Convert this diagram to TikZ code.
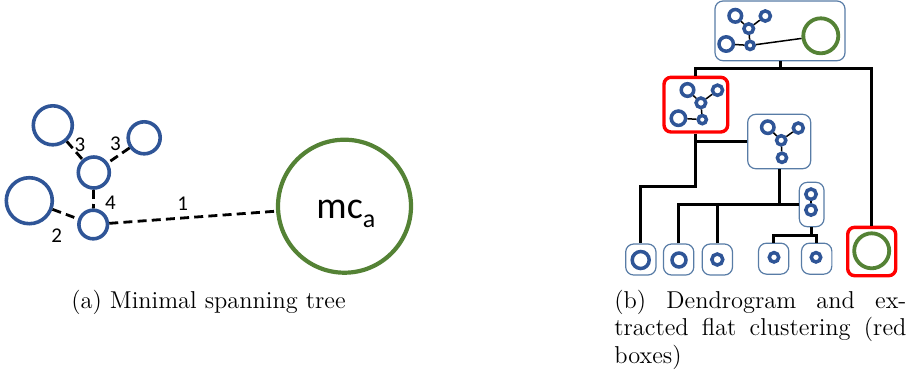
\documentclass[tikz,border=0pt]{standalone}
\usepackage{fontspec}
\newfontfamily\calibri{Carlito}
\definecolor{nodeblue}{RGB}{47,85,151}
\definecolor{clustgreen}{RGB}{84,130,53}
\definecolor{boxline}{RGB}{88,124,166}
\definecolor{selred}{RGB}{255,0,0}
\tikzset{
  % spanning tree (left)
  mstnode/.style={circle, draw=nodeblue, line width=1.8pt, inner sep=0pt, minimum size=#1pt},
  mcnode/.style={circle, draw=clustgreen, line width=2.1pt, inner sep=0pt, minimum size=#1pt},
  mstedge/.style={line width=1.4pt, dash pattern=on 4.5pt off 2.6pt},
  elabel/.style={font=\calibri\fontsize{10.5}{12}\selectfont, inner sep=0pt},
  % dendrogram (right)
  dot/.style={circle, draw=nodeblue, line width=1.75pt, inner sep=0pt, minimum size=#1pt},
  gdot/.style={circle, draw=clustgreen, line width=1.9pt, inner sep=0pt, minimum size=#1pt},
  link/.style={line width=0.75pt},
  card/.style={draw=boxline, line width=0.6pt, rounded corners=4pt, fill=white, inner sep=0pt},
  pick/.style={draw=selred, line width=1.7pt, rounded corners=3.5pt, fill=white, inner sep=0pt},
  branch/.style={line width=1.5pt},
  captext/.style={font=\fontsize{12.2}{13.6}\selectfont, inner sep=0pt},
  % five-point cluster glyph, anchored at its upper left point
  tree5/.pic={
    \node[dot=6.3] (-a) at (0,0) {};
    \node[dot=5.1] (-b) at (30,0.2) {};
    \node[dot=4.8] (-c) at (13.4,12.8) {};
    \node[dot=7.2] (-d) at (-9.1,28.2) {};
    \node[dot=4.1] (-e) at (14.8,29.6) {};
    \draw[link] (-a) -- (-c) (-b) -- (-c) (-c) -- (-e) (-d) -- (-e);
  },
}
\begin{document}
\begin{tikzpicture}[x=0.5pt, y=-0.5pt]
\useasboundingbox (0,0) rectangle (917,377);

% ---------- (a) minimal spanning tree ----------
\node[mstnode=19.5] (tl) at (52.8,125.3) {};
\node[mstnode=16]   (tr) at (144.2,137.8) {};
\node[mstnode=15.5] (md) at (93.8,172.5) {};
\node[mstnode=23]   (bl) at (29.3,200.7) {};
\node[mstnode=14.3] (bt) at (93.2,224.5) {};
\node[mcnode=66.5]  (mc) at (344.5,206.2) {};
\node[font=\calibri\fontsize{19}{20}\selectfont, inner sep=0pt, anchor=base west] (mctext) at (316,218.3)
  {mc\raisebox{-4.5pt}{\fontsize{13}{14}\selectfont a}};

\draw[mstedge] (tl) -- (md);
\draw[mstedge] (tr) -- (md);
\draw[mstedge] (md) -- (bt);
\draw[mstedge] (bl) -- (bt);
\draw[mstedge] (bt) -- (mc);

\node[elabel] (w1) at (80,145) {3};
\node[elabel] (w2) at (115.5,144) {3};
\node[elabel] (w3) at (110.5,202.5) {4};
\node[elabel] (w4) at (56.7,236) {2};
\node[elabel] (w5) at (182.7,203.3) {1};

\node[captext, anchor=base west] (capa) at (71,308) {(a) Minimal spanning tree};

% ---------- (b) dendrogram ----------
% cluster cards
\node[card, minimum width=65pt, minimum height=29.85pt] (n0) at (780,30.85) {};
\node[pick, minimum width=31.85pt, minimum height=27.35pt] (r1) at (695.85,104.65) {};
\node[card, minimum width=31.5pt, minimum height=27.2pt] (n2) at (779.2,141.5) {};
\node[card, minimum width=12.35pt, minimum height=22.2pt] (n3) at (811.65,204.5) {};
\node[card, minimum width=15.15pt, minimum height=15.5pt] (l1) at (640.85,259.5) {};
\node[card, minimum width=15.15pt, minimum height=15.5pt] (l2) at (678.65,259.5) {};
\node[card, minimum width=15.15pt, minimum height=15.5pt] (l3) at (717.35,259.5) {};
\node[card, minimum width=15.15pt, minimum height=15.5pt] (l4) at (773.65,258.65) {};
\node[card, minimum width=15.15pt, minimum height=15.5pt] (l5) at (816.7,258.65) {};
\node[pick, minimum width=24pt, minimum height=24.2pt] (r2) at (871.7,251.5) {};

% contents of the cards
\pic (t0) at (735.3,15.8) {tree5};
\node[gdot=17.5] (t0g) at (820.8,35.8) {};
\draw[link] (t0-e) -- (t0g);

\pic (t1) at (687.5,90) {tree5};

\node[dot=6.2] (t2a) at (767.8,127.2) {};
\node[dot=5]   (t2b) at (798.3,128) {};
\node[dot=4.6] (t2c) at (781.2,140.3) {};
\node[dot=4.6] (t2d) at (782,157.8) {};
\draw[link] (t2a) -- (t2c) (t2b) -- (t2c) (t2c) -- (t2d);

\node[dot=5.2] (t3a) at (811,194.2) {};
\node[dot=5.2] (t3b) at (811,210) {};
\draw[link] (t3a) -- (t3b);

\node[dot=8.5] (c1) at (640.7,260) {};
\node[dot=7]   (c2) at (679,260) {};
\node[dot=5.5] (c3) at (717.3,259.5) {};
\node[dot=4.7] (c4) at (774,257.3) {};
\node[dot=4.7] (c5) at (816,257.3) {};
\node[gdot=17.5] (cg) at (871.7,250.8) {};

% merge lines
\coordinate (j0) at (780,68.3);
\coordinate (j1) at (695.85,186.7);
\coordinate (j3) at (811.65,235.5);
\draw[branch] (n0.south) -- (j0);
\draw[branch] (r1.north) |- (j0) -| (r2.north);
\draw[branch] (r1.south) -- (j1) -| (l1.north);
\draw[branch] (r1.south |- n2.west) -- (n2.west);
\draw[branch] (n2.south) -- (n2.south |- n3.west);
\draw[branch] (l2.north) |- (n3.west);
\draw[branch] (l3.north) -- (l3.north |- n3.west);
\draw[branch] (n3.south) -- (j3);
\draw[branch] (l4.north) |- (j3) -| (l5.north);

\node[captext, text width=146pt, align=justify, anchor=north west] (capb) at (614,290)
  {(b) Dendrogram and ex\-tracted flat clustering (red boxes)};
\end{tikzpicture}
\end{document}
